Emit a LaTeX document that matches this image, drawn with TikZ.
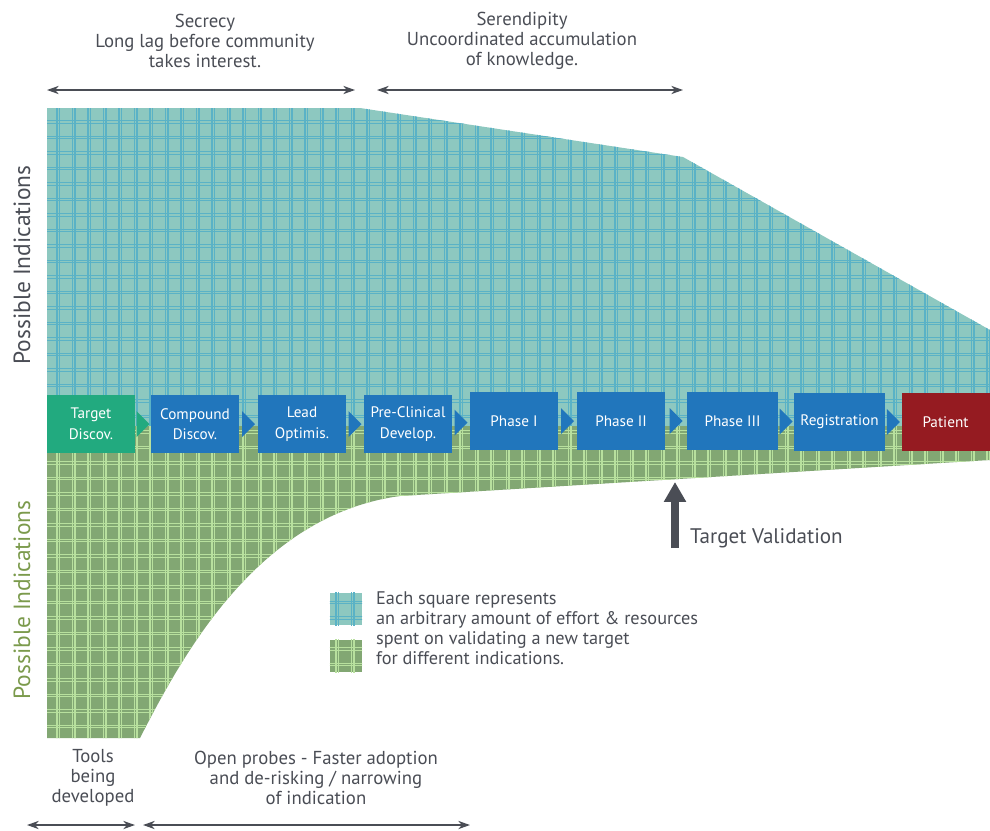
\documentclass[tikz,border=0pt]{standalone}
\usepackage{fontspec}
\setmainfont{PT Sans}
\usetikzlibrary{arrows.meta,calc}

\definecolor{tealfill}{HTML}{8DC8C0}
\definecolor{teallines}{HTML}{5AB2C6}
\definecolor{greenfill}{HTML}{82A773}
\definecolor{greenlines}{HTML}{B8E09E}
\definecolor{stageblue}{HTML}{2176BC}
\definecolor{stagegreen}{HTML}{22AA7F}
\definecolor{stagered}{HTML}{951B21}
\definecolor{darktext}{HTML}{4A4D55}
\definecolor{olivetext}{HTML}{7B9A4C}

\tikzset{
	stage/.style={fill=stageblue, text=white, minimum width=2.64cm, minimum height=1.74cm,
		inner sep=0pt, align=center, font=\fontsize{13}{17.5}\selectfont},
	note/.style={text=darktext, align=center, font=\fontsize{16}{17}\selectfont},
	span/.style={draw=darktext, line width=1.6pt,
		{Stealth[length=10pt,width=7pt]}-{Stealth[length=10pt,width=7pt]}},
	keybox/.style={minimum size=0.96cm, inner sep=0pt},
	sidelabel/.style={rotate=90, font=\fontsize{20}{22}\selectfont},
}

% squares of effort: pairs of lines every 15.5 units
\newcommand{\cellgrid}[1]{%
	\foreach \k in {-1,...,61}{
		\draw[#1] ({57+15.5*\k},-100) -- ({57+15.5*\k},-745);
		\draw[#1] ({59.5+15.5*\k},-100) -- ({59.5+15.5*\k},-745);
	}
	\foreach \k in {-1,...,40}{
		\draw[#1] (40,{-120.7-15.5*\k}) -- (995,{-120.7-15.5*\k});
		\draw[#1] (40,{-123.2-15.5*\k}) -- (995,{-123.2-15.5*\k});
	}%
}

\begin{document}
\begin{tikzpicture}[x=0.03cm, y=0.03cm]
	\useasboundingbox (0,0) rectangle (990,-830);

	% upper area
	\fill[tealfill] (47,-108) -- (360,-108) -- (683,-157) -- (990,-330) --
	(990,-426) -- (47,-426) -- cycle;
	\begin{scope}
		\clip (47,-108) -- (360,-108) -- (683,-157) -- (990,-330) --
		(990,-426) -- (47,-426) -- cycle;
		\cellgrid{teallines, line width=1pt}
	\end{scope}

	% lower area
	\fill[greenfill] (47,-426) -- (990,-426) -- (990,-460) -- (400,-496)
	.. controls (260,-515) and (185,-650) .. (140,-738) -- (47,-738) -- cycle;
	\begin{scope}
		\clip (47,-426) -- (990,-426) -- (990,-460) -- (400,-496)
		.. controls (260,-515) and (185,-650) .. (140,-738) -- (47,-738) -- cycle;
		\cellgrid{greenlines, line width=1pt}
	\end{scope}

	% stages
	\node[stage, fill=stagegreen] (tdisc) at (91,-424) {Target\\Discov.};
	\node[stage] (cdisc) at (195,-424) {Compound\\Discov.};
	\node[stage] (lopt) at (302,-424) {Lead\\Optimis.};
	\node[stage] (preclin) at (408,-424) {Pre-Clinical\\Develop.};
	\node[stage] (ph1) at (514,-421) {Phase I};
	\node[stage] (ph2) at (621,-421) {Phase II};
	\node[stage, minimum width=2.73cm] (ph3) at (732.5,-421) {Phase III};
	\node[stage, minimum width=2.73cm] (reg) at (839.5,-422) {Registration};
	\node[stage, fill=stagered] (patient) at (945.5,-422) {Patient};

	\foreach \a/\b/\c in {tdisc/cdisc/stagegreen, cdisc/lopt/stageblue, lopt/preclin/stageblue,
		preclin/ph1/stageblue, ph1/ph2/stageblue, ph2/ph3/stageblue, ph3/reg/stageblue,
		reg/patient/stageblue}{
		\fill[\c] ($(\a.east)!0.5!(\b.west)$) ++(-6.5,13) -- ++(13,-13) -- ++(-13,-13) -- cycle;
	}

	% side labels
	\node[sidelabel, text=darktext] (upperlabel) at (22,-265) {Possible Indications};
	\node[sidelabel, text=olivetext] (lowerlabel) at (22,-600) {Possible Indications};

	% top notes
	\node[note] (secrecy) at (205,-41) {Secrecy\\Long lag before community\\takes interest.};
	\node[note] (serendip) at (522,-41) {Serendipity\\Uncoordinated accumulation\\of knowledge.};
	\coordinate (secA) at (47,-90);
	\coordinate (secB) at (355,-90);
	\coordinate (serA) at (377,-90);
	\coordinate (serB) at (683,-90);
	\draw[span] (secA) -- (secB);
	\draw[span] (serA) -- (serB);

	% bottom notes
	\node[note] (tools) at (93,-778) {Tools\\being\\developed};
	\node[note] (probes) at (316,-778) {Open probes - Faster adoption\\and de-risking / narrowing\\of indication};
	\coordinate (toolA) at (27,-825);
	\coordinate (toolB) at (135,-825);
	\coordinate (probeA) at (143,-825);
	\coordinate (probeB) at (470,-825);
	\draw[span] (toolA) -- (toolB);
	\draw[span] (probeA) -- (probeB);

	% target validation
	\coordinate (tvbase) at (675,-548);
	\coordinate (tvtip) at (675,-482);
	\draw[darktext, line width=6.8pt, -{Triangle[length=17pt,width=18pt]}] (tvbase) -- (tvtip);
	\node[anchor=west, text=darktext, font=\fontsize{18}{20}\selectfont] (tvlabel) at (686,-538) {Target Validation};

	% key
	\node[keybox, fill=tealfill] (keyteal) at (346,-609) {};
	\node[keybox, fill=greenfill] (keygreen) at (346,-656) {};
	\begin{scope}
		\clip (keyteal.south west) rectangle (keyteal.north east);
		\cellgrid{teallines, line width=1pt}
	\end{scope}
	\begin{scope}
		\clip (keygreen.south west) rectangle (keygreen.north east);
		\cellgrid{greenlines, line width=1pt}
	\end{scope}
	\node[note, align=left, anchor=north west, font=\fontsize{15.6}{17}\selectfont] (keytext) at (372,-588)
	{Each square represents\\an arbitrary amount of effort \& resources\\spent on validating a new target\\for different indications.};
\end{tikzpicture}
\end{document}
